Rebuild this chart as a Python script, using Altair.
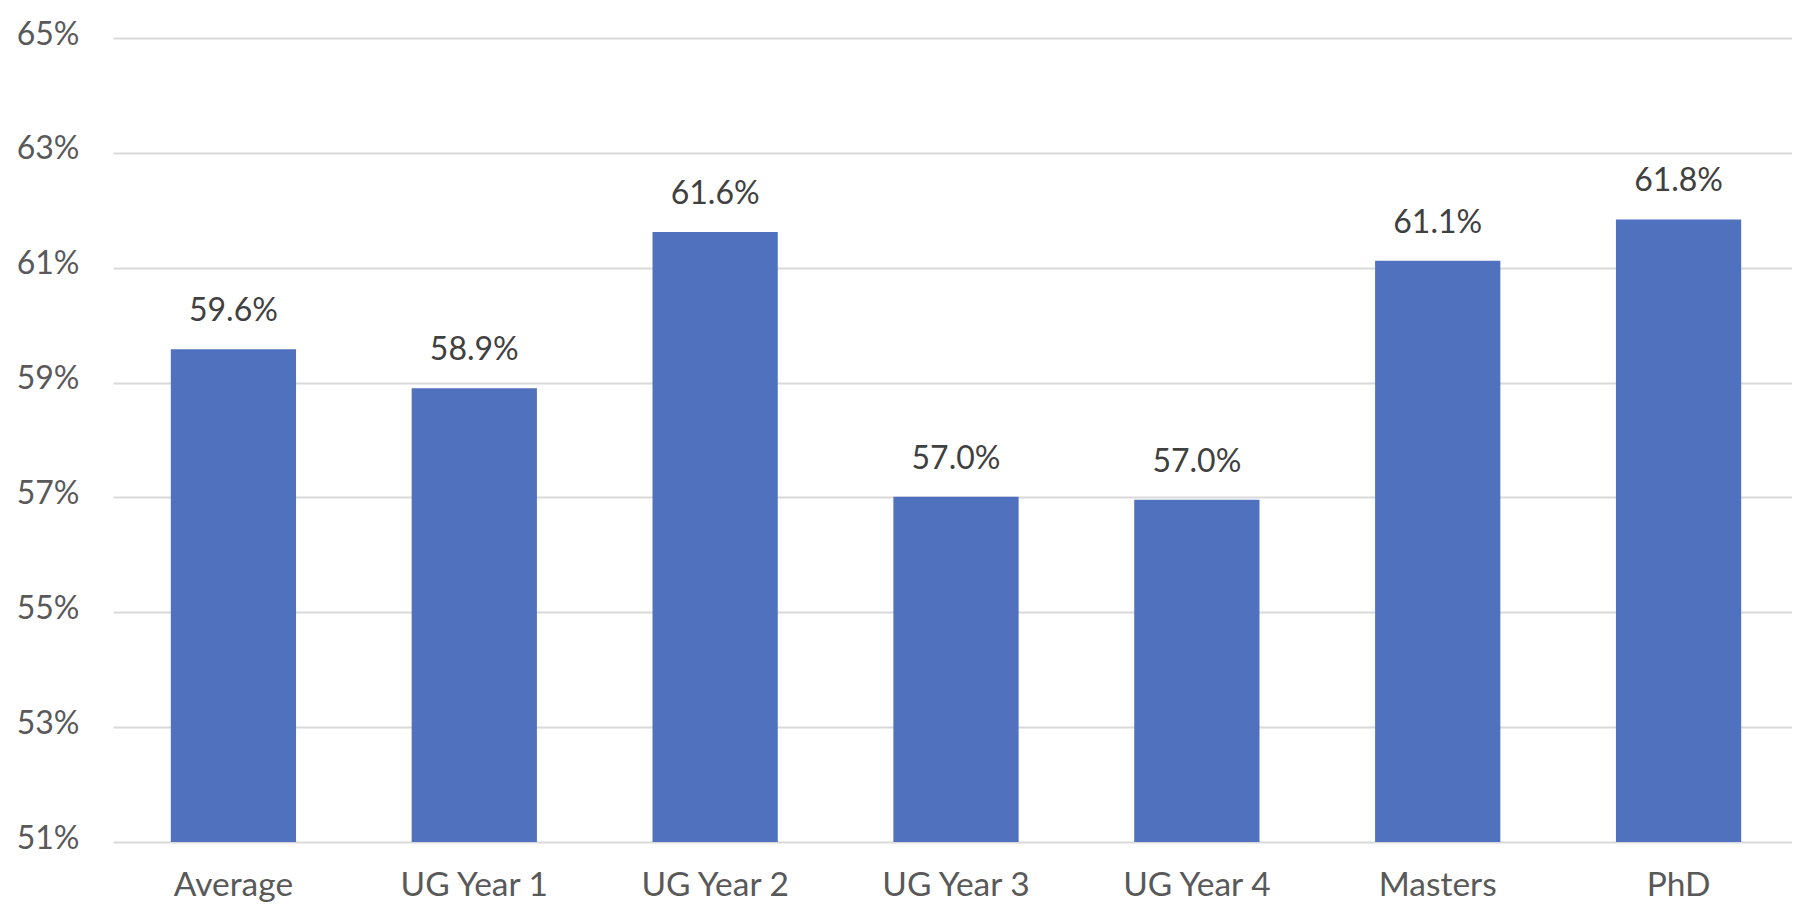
import altair as alt
import pandas as pd

categories = ["Average", "UG Year 1", "UG Year 2", "UG Year 3", "UG Year 4", "Masters", "PhD"]
values = [59.58, 58.90, 61.62, 57.01, 56.96, 61.12, 61.84]
labels = ["59.6%", "58.9%", "61.6%", "57.0%", "57.0%", "61.1%", "61.8%"]
y_ticks = [51, 53, 55, 57, 59, 61, 63, 65]

df = pd.DataFrame({"category": categories, "value": values, "label": labels})

FONT = "Lato"

x_enc = alt.X(
    "category:N",
    sort=None,
    title=None,
    scale=alt.Scale(range=[-3, 1683], paddingInner=0.48, paddingOuter=0.24),
    axis=alt.Axis(
        labelAngle=0,
        labelFont=FONT,
        labelFontSize=33.5,
        labelColor="#595959",
        labelBaseline="alphabetic",
        labelPadding=53,
        ticks=False,
        tickSize=0,
        domain=False,
        grid=False,
    ),
)

y_enc = alt.Y(
    "value:Q",
    title=None,
    scale=alt.Scale(domain=[51, 65], nice=False, zero=False),
    axis=alt.Axis(
        values=y_ticks,
        labelExpr="datum.value + '%'",
        labelFont=FONT,
        labelFontSize=32,
        labelColor="#595959",
        labelBaseline="alphabetic",
        labelOffset=6,
        labelPadding=37,
        ticks=False,
        tickSize=0,
        domain=False,
        grid=True,
        gridColor="#D9D9D9",
        gridWidth=2.2,
    ),
)

bars = alt.Chart(df).mark_bar(color="#4F71BE").encode(
    x=x_enc,
    y=y_enc,
    y2=alt.datum(51),
)

text = alt.Chart(df).mark_text(
    font=FONT,
    fontSize=32,
    color="#404040",
    baseline="alphabetic",
    align="center",
    dy=-28,
).encode(
    x=alt.X("category:N", sort=None),
    y=alt.Y("value:Q"),
    text="label:N",
)

chart = (
    alt.layer(bars, text)
    .properties(
        width=1676,
        height=804,
        autosize=alt.AutoSizeParams(type="none"),
        padding={"left": 108, "top": 30, "right": 0, "bottom": 62},
        background="white",
    )
    .configure_view(stroke=None)
)

chart.save("out.html", embed_options={"renderer": "svg", "actions": False})
